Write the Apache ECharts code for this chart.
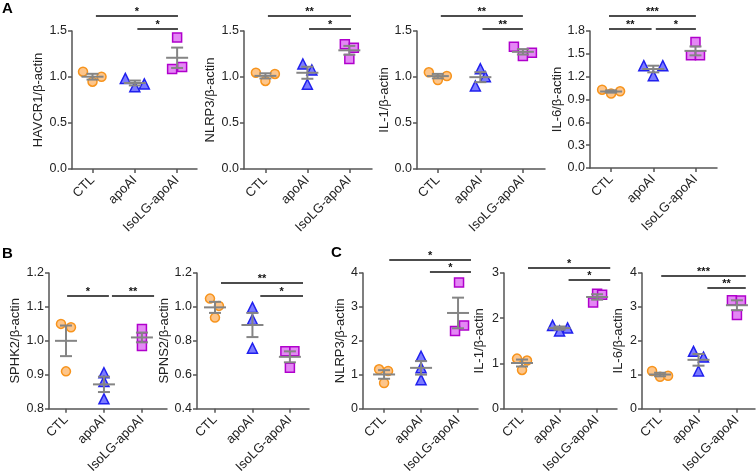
<!DOCTYPE html>
<html><head><meta charset="utf-8">
<script src="https://cdn.jsdelivr.net/npm/echarts@6/dist/echarts.min.js"></script>
<style>html,body{margin:0;padding:0;background:#fff}#c{width:756px;height:476px}</style>
</head><body><div id="c"></div>
<script>
// ---------- DATA ----------
const GROUPS = ['CTL', 'apoAI', 'IsoLG-apoAI'];
// each array: [CTL points], [apoAI points], [IsoLG-apoAI points]
const A_HAVCR1 = [[1.058, 1.003, 0.949], [0.985, 0.895, 0.925], [1.43, 1.087, 1.11]];
const A_NLRP3  = [[1.047, 1.033, 0.957], [1.141, 1.076, 0.921], [1.355, 1.319, 1.196]];
const A_IL1    = [[1.051, 1.011, 0.967], [1.09, 1.003, 0.902], [1.329, 1.264, 1.228]];
const A_IL6    = [[1.029, 0.978, 1.008], [1.344, 1.344, 1.213], [1.656, 1.48, 1.48]];
const B_SPHK2  = [[1.05, 1.04, 0.91], [0.906, 0.88, 0.829], [1.035, 1.01, 0.985]];
const B_SPNS2  = [[1.049, 1.006, 0.937], [0.997, 0.926, 0.757], [0.738, 0.738, 0.641]];
const C_NLRP3  = [[1.16, 1.11, 0.757], [1.545, 1.21, 0.855], [3.72, 2.455, 2.29]];
const C_IL1    = [[1.107, 1.064, 0.857], [1.841, 1.785, 1.72], [2.54, 2.52, 2.35]];
const C_IL6    = [[1.11, 0.94, 0.97], [1.69, 1.52, 1.11], [3.20, 3.19, 2.76]];

// y tick labels
const TICKS_A    = [0, 0.5, 1.0, 1.5];
const TICKS_A_IL6 = [0, 0.3, 0.6, 0.9, 1.2, 1.5, 1.8];
const TICKS_B1   = [0.8, 0.9, 1.0, 1.1, 1.2];
const TICKS_B2   = [0.4, 0.6, 0.8, 1.0, 1.2];
const TICKS_C4   = [0, 1, 2, 3, 4];
const TICKS_C3   = [0, 1, 2, 3];

// significance: [from group, to group, label, row]
const SIG_A1 = [[0.08, 2.02, '*', 0], [1.06, 2.02, '*', 1]];
const SIG_A2 = [[0.06, 2.04, '**', 0], [1.04, 2.04, '*', 1]];
const SIG_A3 = [[0.07, 2.0, '**', 0], [1.05, 2.0, '**', 1]];
const SIG_A4 = [[-0.05, 2.01, '***', 0], [-0.05, 0.96, '**', 1], [1.06, 2.01, '*', 1]];
const SIG_B1 = [[0.03, 1.13, '*', 1], [1.21, 2.32, '**', 1]];
const SIG_B2 = [[0.16, 2.35, '**', 0], [1.21, 2.35, '*', 1]];
const SIG_C1 = [[0.14, 2.35, '*', 0], [1.24, 2.35, '*', 1]];
const SIG_C2 = [[0.16, 2.35, '*', 0], [1.24, 2.35, '*', 1]];
const SIG_C3 = [[0.03, 2.23, '***', 0], [1.23, 2.23, '**', 1]];

// ---------- LAYOUT ----------
const panels = [
  {d: A_HAVCR1, name: 'HAVCR1/β-actin', t: TICKS_A, dec: 1, sig: SIG_A1, g: [72, 31, 125, 138], xr: [-0.485, 2.47], gap: 27, rows: [-15, -2],
   jit: [[-9.5, 9, 0], [-9.5, 0, 9.5], [0, -5, 5]]},
  {d: A_NLRP3, name: 'NLRP3/β-actin', t: TICKS_A, dec: 1, sig: SIG_A2, g: [244, 31, 128, 138], xr: [-0.51, 2.54], gap: 27, rows: [-15, -2],
   jit: [[-9.5, 9.5, 0], [-4.5, 4.5, 0], [-4.5, 4.5, 0]]},
  {d: A_IL1, name: 'IL-1/β-actin', t: TICKS_A, dec: 1, sig: SIG_A3, g: [417, 31, 128, 138], xr: [-0.49, 2.52], gap: 26, rows: [-15, -2],
   jit: [[-9, 9, 0], [0, 5, -5], [-9, 9, 0]]},
  {d: A_IL6, name: 'IL-6/β-actin', t: TICKS_A_IL6, dec: 1, sig: SIG_A4, g: [590, 31, 127, 137], xr: [-0.5, 2.51], gap: 25, rows: [-15, -2],
   jit: [[-9, 0, 9], [-9.5, 9.5, 0], [0, -4.5, 4.5]]},
  {d: B_SPHK2, name: 'SPHK2/β-actin', t: TICKS_B1, dec: 1, sig: SIG_B1, g: [49, 273, 118, 139], xr: [-0.447, 2.66], gap: 27, rows: [10, 23],
   jit: [[-5, 5, 0], [0, 0, 0], [0, 0, 0]]},
  {d: B_SPNS2, name: 'SPNS2/β-actin', t: TICKS_B2, dec: 1, sig: SIG_B2, g: [197, 273, 112, 139], xr: [-0.48, 2.51], gap: 25, rows: [10, 23],
   jit: [[-5, 4, 0], [0, 0, 0], [-4.5, 4.5, 0]]},
  {d: C_NLRP3, name: 'NLRP3/β-actin', t: TICKS_C4, dec: 0, sig: SIG_C1, g: [363, 273, 115, 139], xr: [-0.57, 2.54], gap: 15, rows: [-13, -1],
   jit: [[-5, 4, 0], [0, 0, 0], [1, 6, -3]]},
  {d: C_IL1, name: 'IL-1/β-actin', t: TICKS_C3, dec: 0, sig: SIG_C2, g: [504, 273, 113, 139], xr: [-0.48, 2.53], gap: 18, rows: [-5, 7],
   jit: [[-5, 5, 0], [-7, 8, 0], [0, 5, -4]]},
  {d: C_IL6, name: 'IL-6/β-actin', t: TICKS_C4, dec: 0, sig: SIG_C3, g: [642, 273, 113, 139], xr: [-0.47, 2.47], gap: 17, rows: [3, 15],
   jit: [[-8, 0, 8], [-5, 5, 0], [-5, 4, 0]]}
];

const FONT = 'Liberation Sans, Arial, Helvetica, sans-serif';
const AXC = '#555';
const MARK = [
  {symbol: 'circle', size: 9, color: '#FDC58A', border: '#F7941D'},
  {symbol: 'triangle', size: 10, color: '#7B7BFF', border: '#2020EE'},
  {symbol: 'rect', size: 9, color: '#E487F5', border: '#B000CC'}
];

function stats(a) {
  const n = a.length, m = a.reduce((s, v) => s + v, 0) / n;
  const sd = Math.sqrt(a.reduce((s, v) => s + (v - m) * (v - m), 0) / (n - 1));
  return [m, sd / Math.sqrt(n)];
}

const grid = [], xAxis = [], yAxis = [], series = [];
panels.forEach((p, i) => {
  grid.push({left: p.g[0], top: p.g[1], width: p.g[2], height: p.g[3]});
  xAxis.push({
    type: 'value', gridIndex: i, min: p.xr[0], max: p.xr[1],
    axisLine: {show: true, onZero: false, lineStyle: {color: AXC, width: 1.5}},
    axisTick: {show: true, customValues: [0, 1, 2], length: 4, lineStyle: {color: AXC, width: 1.5}},
    axisLabel: {show: true, customValues: [0, 1, 2], rotate: 45, margin: 9, fontSize: 13, color: '#222', fontFamily: FONT,
      formatter: v => GROUPS[Math.round(v)]},
    splitLine: {show: false}
  });
  yAxis.push({
    type: 'value', gridIndex: i, min: p.t[0], max: p.t[p.t.length - 1], interval: p.t[1] - p.t[0],
    name: p.name, nameLocation: 'middle', nameGap: p.gap, nameRotate: 90,
    nameTextStyle: {fontSize: 13, color: '#222', fontFamily: FONT},
    axisLine: {show: true, onZero: false, lineStyle: {color: AXC, width: 1.5}},
    axisTick: {show: true, length: 4, lineStyle: {color: AXC, width: 1.5}},
    axisLabel: {margin: 5, fontSize: 12.5, color: '#222', fontFamily: FONT, formatter: v => v.toFixed(p.dec)},
    splitLine: {show: false}
  });
  p.d.forEach((pts, g) => {
    const mk = MARK[g];
    series.push({
      type: 'scatter', xAxisIndex: i, yAxisIndex: i, symbol: mk.symbol, symbolSize: mk.size,
      itemStyle: {color: mk.color, borderColor: mk.border, borderWidth: 1.5, opacity: 1},
      z: 2, silent: true,
      data: pts.map((v, k) => ({value: [g, v], symbolOffset: [p.jit[g][k], 0]}))
    });
  });
  series.push({
    type: 'custom', xAxisIndex: i, yAxisIndex: i, z: 5, silent: true,
    encode: {x: 0, y: 1},
    data: p.d.map((pts, g) => { const s = stats(pts); return [g, s[0], s[0] - s[1], s[0] + s[1]]; }),
    renderItem: (params, api) => {
      const c = api.coord([api.value(0), api.value(1)]);
      const lo = api.coord([api.value(0), api.value(2)]);
      const hi = api.coord([api.value(0), api.value(3)]);
      const st = {stroke: '#858585', lineWidth: 2};
      return {type: 'group', children: [
        {type: 'line', shape: {x1: c[0] - 11, y1: c[1], x2: c[0] + 11, y2: c[1]}, style: st},
        {type: 'line', shape: {x1: c[0], y1: lo[1], x2: c[0], y2: hi[1]}, style: st},
        {type: 'line', shape: {x1: c[0] - 6, y1: lo[1], x2: c[0] + 6, y2: lo[1]}, style: st},
        {type: 'line', shape: {x1: c[0] - 6, y1: hi[1], x2: c[0] + 6, y2: hi[1]}, style: st}
      ]};
    }
  });
});

const chart = echarts.init(document.getElementById('c'), null, {renderer: 'canvas'});
chart.setOption({animation: false, backgroundColor: '#fff', textStyle: {fontFamily: FONT}, grid, xAxis, yAxis, series});

// significance bars and panel letters
const graphic = [];
panels.forEach((p, i) => {
  p.sig.forEach(s => {
    const x1 = chart.convertToPixel({xAxisIndex: i}, s[0]);
    const x2 = chart.convertToPixel({xAxisIndex: i}, s[1]);
    const y = p.g[1] + p.rows[s[3]];
    graphic.push({type: 'line', shape: {x1, y1: y, x2, y2: y}, style: {stroke: '#111', lineWidth: 1.5}, silent: true});
    graphic.push({type: 'text', x: (x1 + x2) / 2, y: y + 1, silent: true,
      style: {text: s[2], fill: '#111', font: 'bold 11px ' + FONT, textAlign: 'center', textVerticalAlign: 'bottom'}});
  });
});
[['A', 2, 1], ['B', 2, 246], ['C', 331, 245]].forEach(l => {
  graphic.push({type: 'text', x: l[1], y: l[2], silent: true,
    style: {text: l[0], fill: '#000', font: 'bold 15px ' + FONT, textAlign: 'left', textVerticalAlign: 'top'}});
});
chart.setOption({graphic});
</script>
</body></html>
